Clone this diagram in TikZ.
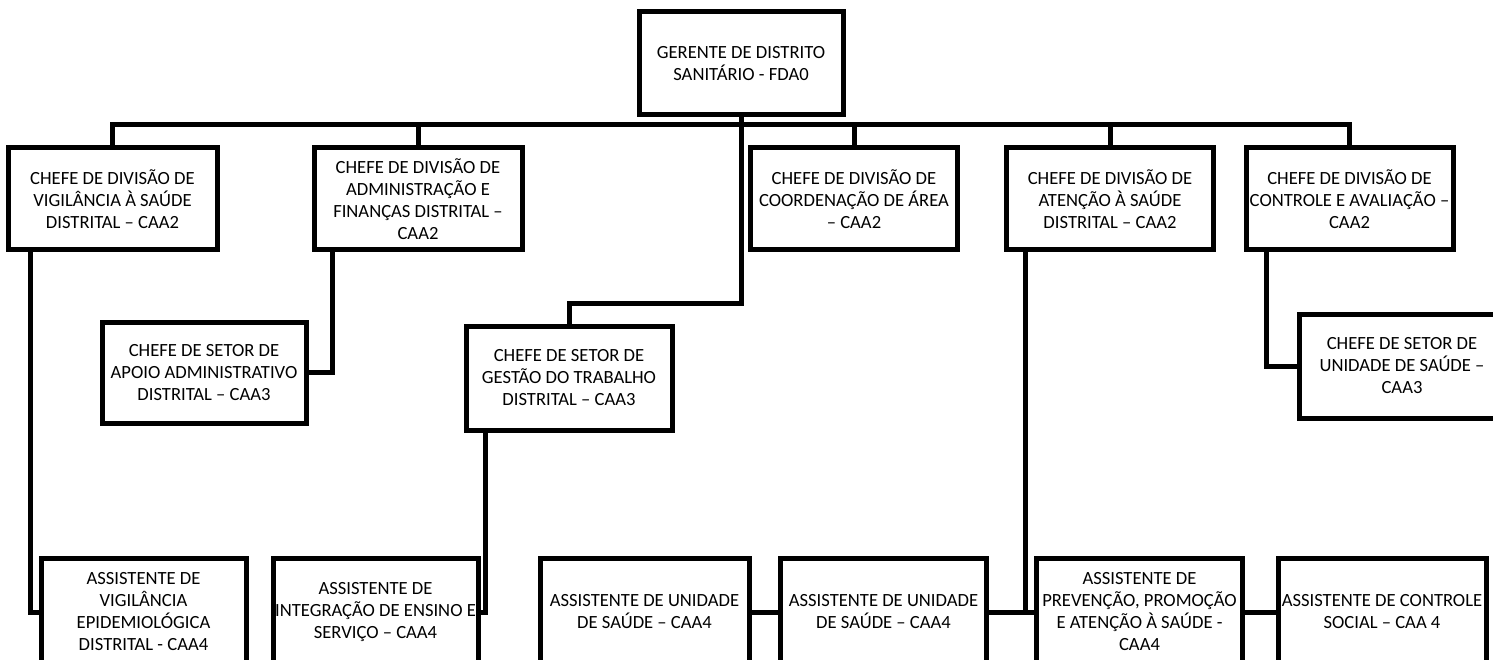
\documentclass[tikz,border=0pt]{standalone}
\usepackage{fontspec}
\setmainfont{Carlito}
\tikzset{
  caixa/.style={draw,line width=5pt,minimum width=205pt,minimum height=102pt,
    align=center,inner sep=0pt,font=\fontsize{18.6}{22}\selectfont},
  liga/.style={line width=5pt}
}
\begin{document}
\begin{tikzpicture}[x=1pt,y=-1pt]
   \useasboundingbox (0,0) rectangle (1493,660);
   %topo
   \node[caixa,minimum width=204pt,minimum height=103pt] (gerente) at (741,63.5) {GERENTE DE DISTRITO\\SANITÁRIO - FDA0};
   %divisoes
   \node[caixa,minimum width=209pt] (vigil) at (112.5,199) {CHEFE DE DIVISÃO DE\\VIGILÂNCIA À SAÚDE\\DISTRITAL – CAA2};
   \node[caixa,minimum width=208pt] (admin) at (418,199) {CHEFE DE DIVISÃO DE\\ADMINISTRAÇÃO E\\FINANÇAS DISTRITAL –\\CAA2};
   \node[caixa,minimum width=207pt] (coord) at (854,199) {CHEFE DE DIVISÃO DE\\COORDENAÇÃO DE ÁREA\\– CAA2};
   \node[caixa,minimum width=207pt] (atencao) at (1110,199) {CHEFE DE DIVISÃO DE\\ATENÇÃO À SAÚDE\\DISTRITAL – CAA2};
   \node[caixa,minimum width=207pt] (controle) at (1349.5,199) {CHEFE DE DIVISÃO DE\\CONTROLE E AVALIAÇÃO –\\CAA2};
   %setores
   \node[caixa,minimum width=204pt,minimum height=101pt] (apoio) at (204,372.5) {CHEFE DE SETOR DE\\APOIO ADMINISTRATIVO\\DISTRITAL – CAA3};
   \node[caixa,minimum width=206pt,minimum height=104pt] (gestao) at (569,378) {CHEFE DE SETOR DE\\GESTÃO DO TRABALHO\\DISTRITAL – CAA3};
   \node[caixa,minimum width=206pt,minimum height=104pt] (unidade) at (1402,366) {CHEFE DE SETOR DE\\UNIDADE DE SAÚDE –\\CAA3};
   %assistentes
   \node[caixa,minimum height=108pt] (epidem) at (143.5,612) {ASSISTENTE DE\\VIGILÂNCIA\\EPIDEMIOLÓGICA\\DISTRITAL - CAA4};
   \node[caixa,minimum height=108pt] (ensino) at (375.5,612) {ASSISTENTE DE\\INTEGRAÇÃO DE ENSINO E\\SERVIÇO – CAA4};
   \node[caixa,minimum width=209pt,minimum height=108pt] (saudeA) at (644.5,612) {ASSISTENTE DE UNIDADE\\DE SAÚDE – CAA4};
   \node[caixa,minimum width=206pt,minimum height=108pt] (saudeB) at (883.5,612) {ASSISTENTE DE UNIDADE\\DE SAÚDE – CAA4};
   \node[caixa,minimum width=206pt,minimum height=108pt] (prevencao) at (1139.5,612) {ASSISTENTE DE\\PREVENÇÃO, PROMOÇÃO\\E ATENÇÃO À SAÚDE -\\CAA4};
   \node[caixa,minimum width=208pt,minimum height=108pt] (social) at (1382,612) {ASSISTENTE DE CONTROLE\\SOCIAL – CAA 4};
   %barramento
   \coordinate (barra) at (0,125);
   \coordinate (meio) at (0,303);
   \draw[liga] (vigil.north) -- (vigil.north |- barra) -- (controle.north |- barra) -- (controle.north);
   \draw[liga] (admin.north) -- (admin.north |- barra);
   \draw[liga] (coord.north) -- (coord.north |- barra);
   \draw[liga] (atencao.north) -- (atencao.north |- barra);
   \draw[liga] (gerente.south) -- (gerente.south |- meio) -- (gestao.north |- meio) -- (gestao.north);
   %ligacoes
   \draw[liga] ([xshift=25pt]vigil.south west) |- (epidem.west);
   \draw[liga] ([xshift=21pt]admin.south west) |- (apoio.east);
   \draw[liga] ([xshift=22pt]gestao.south west) |- (ensino.east);
   \draw[liga] ([xshift=23pt]controle.south west) |- (unidade.west);
   \draw[liga] ([xshift=21pt]atencao.south west) -- ([xshift=21pt]atencao.south west |- prevencao.west);
   \draw[liga] (saudeA) -- (saudeB);
   \draw[liga] (saudeB) -- (prevencao);
   \draw[liga] (prevencao) -- (social);
\end{tikzpicture}
\end{document}
